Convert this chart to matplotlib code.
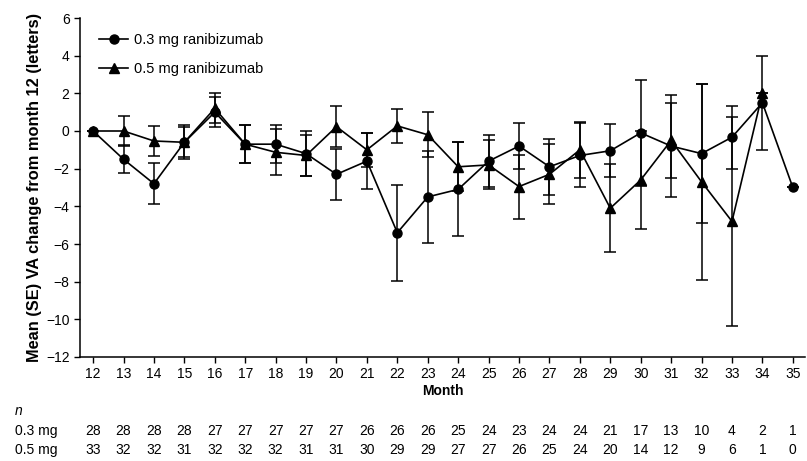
import matplotlib
matplotlib.use("Agg")
import matplotlib.pyplot as plt
from matplotlib.lines import Line2D
from matplotlib.transforms import blended_transform_factory

plt.rcParams['font.family'] = ['Liberation Sans', 'DejaVu Sans']

months = list(range(12, 36))
mean_03 = [0.0, -1.5, -2.8, -0.6, 1.0, -0.7, -0.7, -1.2, -2.3, -1.6, -5.4, -3.5,
           -3.1, -1.6, -0.8, -1.9, -1.3, -1.05, -0.1, -0.8, -1.2, -0.33, 1.5, -3.0]
se_03 = [0.0, 0.75, 1.1, 0.9, 0.8, 1.0, 1.0, 1.2, 1.35, 1.5, 2.55, 2.45,
         2.5, 1.4, 1.2, 1.5, 1.7, 1.4, 2.8, 2.7, 3.7, 1.67, 2.5, 0.0]
months_05 = list(range(12, 35))
mean_05 = [0.0, 0.0, -0.53, -0.6, 1.2, -0.7, -1.13, -1.3, 0.23, -1.0, 0.27, -0.2,
           -1.9, -1.8, -2.95, -2.3, -1.0, -4.1, -2.6, -0.5, -2.7, -4.8, 2.0]
se_05 = [0.0, 0.78, 0.8, 0.8, 0.8, 1.0, 1.23, 1.1, 1.1, 0.9, 0.9, 1.2,
         1.3, 1.3, 1.7, 1.6, 1.5, 2.35, 2.6, 2.0, 5.2, 5.55, 0.0]
n_03 = [28, 28, 28, 28, 27, 27, 27, 27, 27, 26, 26, 26, 25, 24, 23, 24, 24, 21, 17, 13, 10, 4, 2, 1]
n_05 = [33, 32, 32, 31, 32, 32, 32, 31, 31, 30, 29, 29, 27, 27, 26, 25, 24, 20, 14, 12, 9, 6, 1, 0]
yticks = [6, 4, 2, 0, -2, -4, -6, -8, -10, -12]
ytick_labels = ['6', '4', '2', '0', '\u22122', '\u22124', '\u22126', '\u22128', '\u221210', '\u221212']

fig = plt.figure(figsize=(8.07, 4.61), dpi=100)
ax = fig.add_axes([80/807, 1-357/461, 725/807, (357-18)/461])

ax.errorbar(months, mean_03, yerr=se_03, fmt='-o', color='black', ms=6.5, lw=1.2,
            elinewidth=1.1, capsize=4.3, capthick=1.1)
ax.errorbar(months_05, mean_05, yerr=se_05, fmt='-^', color='black', ms=6.5, lw=1.2,
            elinewidth=1.1, capsize=4.3, capthick=1.1)

ax.set_xlim(11.57, 35.4)
ax.set_ylim(-12, 6)
ax.set_xticks(months)
ax.set_xticklabels([str(m) for m in months], fontsize=10)
ax.set_yticks(yticks)
ax.set_yticklabels(ytick_labels, fontsize=10)
ax.tick_params(direction='out', length=4, width=1, color='black')
for s in ['top', 'right']:
    ax.spines[s].set_visible(False)
for s in ['left', 'bottom']:
    ax.spines[s].set_linewidth(1.1)

ax.set_xlabel('Month', fontsize=10, fontweight='bold', labelpad=2)
ax.set_ylabel('Mean (SE) VA change from month 12 (letters)', fontsize=11.8,
              fontweight='bold', labelpad=3)

handles = [Line2D([], [], color='black', marker='o', ms=6.5, lw=1.2),
           Line2D([], [], color='black', marker='^', ms=6.5, lw=1.2)]
labels = ['0.3 mg ranibizumab', '0.5 mg ranibizumab']
ax.legend(handles, labels, loc='upper left', bbox_to_anchor=(0.008, 0.995),
          frameon=False, fontsize=10.5, handlelength=2.0, labelspacing=1.05,
          handletextpad=0.4)

tr = blended_transform_factory(ax.transData, fig.transFigure)
fig.text(15/807, 1-411/461, 'n', fontsize=10, style='italic', va='center', ha='left')
fig.text(15/807, 1-431/461, '0.3 mg', fontsize=10, va='center', ha='left')
fig.text(15/807, 1-450/461, '0.5 mg', fontsize=10, va='center', ha='left')
for m, a, b in zip(months, n_03, n_05):
    ax.text(m, 1-431/461, str(a), transform=tr, fontsize=10, va='center', ha='center')
    ax.text(m, 1-450/461, str(b), transform=tr, fontsize=10, va='center', ha='center')

fig.savefig('out.png', dpi=100, facecolor='white')
